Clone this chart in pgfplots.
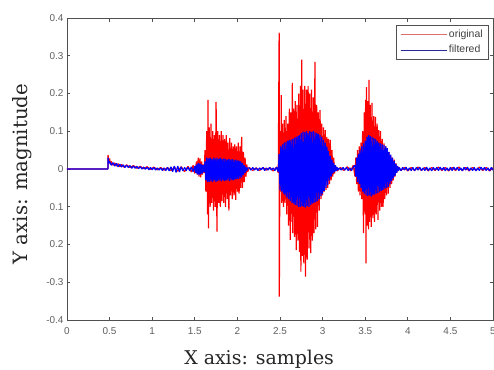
\documentclass[border=0pt]{standalone}
\usepackage{fontspec}
\setmainfont{DejaVu Serif}
\newfontfamily\tickfont{Liberation Sans}
\usepackage{pgfplots}
\pgfplotsset{compat=1.18}
\definecolor{tickgray}{RGB}{95,95,95}
\definecolor{axgray}{RGB}{80,80,80}
\definecolor{legred}{RGB}{225,110,110}
\definecolor{legblue}{RGB}{40,40,150}
\begin{document}
\begin{tikzpicture}
\begin{axis}[
  name=ax, at={(0,0)}, anchor=south west,
  width=426bp, height=302bp, scale only axis,
  xmin=0, xmax=5, ymin=-0.4, ymax=0.4,
  xtick={0,0.5,1,1.5,2,2.5,3,3.5,4,4.5,5},
  xticklabels={0,0.5,1,1.5,2,2.5,3,3.5,4,4.5,5},
  ytick={-0.4,-0.3,-0.2,-0.1,0,0.1,0.2,0.3,0.4},
  yticklabels={-0.4,-0.3,0.2,0.1,0,0.1,0.2,0.3,0.4},
  tick align=inside, major tick length=3.5bp,
  axis line style={draw=axgray, line width=0.9bp},
  every tick/.style={draw=axgray, line width=0.7bp},
  /pgf/number format/assume math mode=true,
  ticklabel style={font=\tickfont\fontsize{10}{12}\selectfont, text=tickgray},
  xticklabel style={yshift=-4bp},
  xlabel={X axis: samples}, ylabel={Y axis: magnitude},
  xlabel style={font=\fontsize{19}{22}\selectfont, text=black!85, at={(axis description cs:0.451,-0.149)}, anchor=base},
  ylabel style={font=\fontsize{19.8}{22}\selectfont, text=black!85, at={(axis description cs:-0.1045,0.483)}, anchor=center},
  legend style={at={(axis description cs:0.9906,0.9768)}, anchor=north east, draw=axgray, line width=0.6bp,
    font=\tickfont\fontsize{10.5}{12}\selectfont, text=black!75, inner xsep=4bp, inner ysep=3bp,
    row sep=2bp, legend cell align=left},
]
\addplot[draw=red, line width=1.2bp, line join=bevel, no markers,
  legend image code/.code={\draw[draw=legred, line width=0.7bp] (0bp,0bp) -- (46bp,0bp);}] coordinates {
(0,0) (0.48,0) (0.482,0.037) (0.49,0.018) (0.50,0.028) (0.51,0.012) (0.52,0.02) (0.54,0.01) (0.56,0.016) (0.58,0.008) (0.60,0.014) (0.62,0.006) (0.64,0.012) (0.67,0.005) (0.70,0.011) (0.74,0.004) (0.78,0.009) (0.82,0.002) (0.86,0.007) (0.90,0.001) (0.94,0.006) (0.98,-0.001) (1.02,0.005) (1.06,-0.002) (1.10,0.004) (1.14,-0.003) (1.18,0.004) (1.22,-0.004) (1.26,0.005) (1.30,-0.006) (1.34,0.006) (1.38,-0.007) (1.42,0.007) (1.46,-0.008) (1.48,0.01) (1.50,-0.012) (1.52,0.02) (1.53,-0.015) (1.54,0.03) (1.55,-0.02) (1.56,0.028) (1.57,-0.022) (1.58,0.02) (1.59,-0.015) (1.60,0.012) (1.61,-0.01)
(1.62,0.05) (1.63,-0.06) (1.64,0.10) (1.65,-0.12) (1.655,0.183) (1.66,-0.157) (1.67,0.11) (1.68,-0.10) (1.69,0.12) (1.70,-0.09) (1.71,0.10) (1.72,-0.11) (1.73,0.09) (1.74,-0.10) (1.75,0.178) (1.76,-0.166) (1.77,0.10) (1.78,-0.09) (1.79,0.09) (1.80,-0.10) (1.81,0.10) (1.82,-0.085) (1.83,0.09) (1.84,-0.09) (1.85,0.08) (1.86,-0.10) (1.87,0.09) (1.88,-0.08) (1.89,0.07) (1.90,-0.11) (1.91,0.082) (1.92,-0.07) (1.93,0.07) (1.94,-0.08) (1.95,0.06) (1.96,-0.07) (1.97,0.065) (1.98,-0.082) (1.99,0.06) (2.00,-0.06) (2.01,0.07) (2.02,-0.065) (2.03,0.06) (2.04,-0.05) (2.05,0.085) (2.06,-0.05) (2.07,0.045) (2.08,-0.035) (2.09,0.03) (2.10,-0.02) (2.11,0.012) (2.12,-0.008)
(2.14,0.004) (2.18,-0.004) (2.22,0.003) (2.26,-0.004) (2.30,0.004) (2.34,-0.003) (2.38,0.004) (2.42,-0.005) (2.46,0.005) (2.48,-0.01)
(2.49,0.361) (2.492,-0.338) (2.50,0.10) (2.51,-0.06) (2.515,0.196) (2.52,-0.09) (2.53,0.12) (2.54,-0.10) (2.55,0.13) (2.56,-0.09) (2.57,0.14) (2.58,-0.12) (2.59,0.12) (2.60,-0.15) (2.61,0.16) (2.62,-0.188) (2.63,0.15) (2.64,-0.14) (2.645,0.228) (2.65,-0.17) (2.66,0.16) (2.67,-0.18) (2.68,0.18) (2.69,-0.215) (2.70,0.17) (2.71,-0.19) (2.72,0.20) (2.73,-0.22) (2.74,0.22) (2.745,-0.272) (2.755,0.29) (2.76,-0.23) (2.77,0.21) (2.78,-0.25) (2.79,0.22) (2.80,-0.285) (2.81,0.21) (2.82,-0.24) (2.83,0.22) (2.84,-0.21) (2.85,0.20) (2.86,-0.223) (2.87,0.21) (2.88,-0.19) (2.89,0.19) (2.90,-0.17) (2.91,0.284) (2.92,-0.16) (2.93,0.17) (2.94,-0.153) (2.95,0.15) (2.96,-0.11) (2.97,0.156) (2.98,-0.08) (2.99,0.12) (3.00,-0.07) (3.01,0.11) (3.02,-0.06) (3.03,0.103) (3.04,-0.055) (3.05,0.085) (3.06,-0.05) (3.07,0.08) (3.08,-0.04) (3.09,0.077) (3.10,-0.03) (3.11,0.05) (3.12,-0.02) (3.13,0.03) (3.14,-0.012) (3.15,0.008)
(3.17,-0.005) (3.21,0.004) (3.25,-0.004) (3.29,0.006) (3.33,-0.005) (3.36,0.01) (3.38,-0.02)
(3.39,0.03) (3.40,-0.04) (3.41,0.05) (3.42,-0.06) (3.43,0.06) (3.44,-0.07) (3.45,0.07) (3.46,-0.08) (3.47,0.10) (3.48,-0.17) (3.49,0.15) (3.50,-0.12) (3.505,0.183) (3.51,-0.25) (3.515,0.217) (3.52,-0.15) (3.53,0.18) (3.54,-0.16) (3.545,0.236) (3.55,-0.14) (3.56,0.17) (3.57,-0.153) (3.58,0.175) (3.59,-0.13) (3.60,0.14) (3.61,-0.14) (3.62,0.138) (3.63,-0.12) (3.64,0.12) (3.65,-0.135) (3.66,0.103) (3.67,-0.11) (3.68,0.10) (3.69,-0.10) (3.70,0.08) (3.71,-0.10) (3.72,0.068) (3.73,-0.08) (3.74,0.06) (3.75,-0.07) (3.76,0.05) (3.77,-0.065) (3.78,0.045) (3.79,-0.05) (3.80,0.035) (3.81,-0.04) (3.82,0.03) (3.83,-0.03) (3.84,0.025) (3.85,-0.02) (3.86,0.015) (3.87,-0.01) (3.88,0.006)
(3.92,-0.004) (3.96,0.004) (4.00,-0.005) (4.04,0.004) (4.08,-0.004) (4.12,0.005) (4.16,-0.004) (4.20,0.004) (4.24,-0.005) (4.28,0.004) (4.32,-0.004) (4.36,0.005) (4.40,-0.004) (4.44,0.004) (4.48,-0.005) (4.52,0.004) (4.56,-0.004) (4.60,0.005) (4.64,-0.004) (4.68,0.004) (4.72,-0.005) (4.76,0.004) (4.80,-0.004) (4.84,0.005) (4.88,-0.004) (4.92,0.004) (4.96,-0.005) (5.00,0.003)
};
\addlegendentry{original}
\addplot[draw=blue, line width=1.2bp, line join=bevel, no markers,
  legend image code/.code={\draw[draw=legblue, line width=0.7bp] (0bp,0bp) -- (46bp,0bp);}] coordinates {
(0,0) (0.48,0) (0.482,0.03) (0.49,0.015) (0.50,0.02) (0.52,0.010) (0.54,0.017) (0.56,0.008) (0.58,0.015) (0.60,0.006) (0.62,0.013) (0.64,0.005) (0.66,0.011) (0.68,0.004) (0.70,0.010) (0.72,0.004) (0.74,0.009) (0.76,0.002) (0.78,0.008) (0.80,0.002) (0.82,0.007) (0.84,0.001) (0.86,0.006) (0.88,0.000) (0.90,0.005) (0.92,-0.001) (0.94,0.005) (0.96,-0.002) (0.98,0.004) (1.00,-0.002) (1.02,0.004) (1.04,-0.003) (1.06,0.003) (1.08,-0.003) (1.10,0.003) (1.12,-0.004) (1.14,0.003) (1.16,-0.004) (1.18,0.004) (1.20,-0.005) (1.22,0.006) (1.24,-0.007) (1.26,0.008) (1.28,-0.009) (1.30,0.008) (1.32,-0.008) (1.34,0.006) (1.36,-0.005) (1.38,0.004) (1.40,-0.004) (1.42,0.005) (1.44,-0.005) (1.46,0.006) (1.48,-0.007) (1.50,0.008) (1.51,-0.01) (1.52,0.012) (1.53,-0.014) (1.54,0.016) (1.55,-0.016) (1.56,0.015) (1.57,-0.014) (1.58,0.012) (1.59,-0.012) (1.60,0.01) (1.61,-0.008)
(1.62,0.02) (1.63,-0.03) (1.64,0.03) (1.65,-0.035) (1.66,0.028) (1.67,-0.034) (1.68,0.03) (1.69,-0.033) (1.70,0.026) (1.71,-0.035) (1.72,0.03) (1.73,-0.03) (1.74,0.028) (1.75,-0.034) (1.76,0.03) (1.77,-0.032) (1.78,0.027) (1.79,-0.03) (1.80,0.03) (1.81,-0.033) (1.82,0.026) (1.83,-0.03) (1.84,0.028) (1.85,-0.032) (1.86,0.027) (1.87,-0.03) (1.88,0.025) (1.89,-0.03) (1.90,0.027) (1.91,-0.032) (1.92,0.025) (1.93,-0.028) (1.94,0.026) (1.95,-0.03) (1.96,0.024) (1.97,-0.028) (1.98,0.025) (1.99,-0.027) (2.00,0.023) (2.01,-0.026) (2.02,0.022) (2.03,-0.025) (2.04,0.02) (2.05,-0.022) (2.06,0.016) (2.07,-0.016) (2.08,0.01) (2.09,-0.01) (2.10,0.006) (2.11,-0.005) (2.12,0.003)
(2.14,0.003) (2.16,-0.003) (2.18,0.004) (2.20,-0.003) (2.22,0.003) (2.24,-0.004) (2.26,0.003) (2.28,-0.002) (2.30,0.004) (2.32,-0.004) (2.34,0.003) (2.36,-0.003) (2.38,0.004) (2.40,-0.003) (2.42,0.003) (2.44,-0.004) (2.46,0.005) (2.48,-0.008)
(2.49,0.04) (2.50,-0.056) (2.51,0.06) (2.52,-0.06) (2.53,0.065) (2.54,-0.065) (2.55,0.07) (2.56,-0.07) (2.57,0.072) (2.58,-0.075) (2.59,0.075) (2.60,-0.08) (2.61,0.077) (2.62,-0.085) (2.63,0.078) (2.64,-0.09) (2.65,0.08) (2.66,-0.092) (2.67,0.083) (2.68,-0.095) (2.69,0.085) (2.70,-0.097) (2.71,0.088) (2.72,-0.1) (2.73,0.09) (2.74,-0.1) (2.75,0.095) (2.76,-0.098) (2.77,0.099) (2.78,-0.1) (2.79,0.097) (2.80,-0.102) (2.81,0.1) (2.82,-0.098) (2.83,0.096) (2.84,-0.1) (2.85,0.1) (2.86,-0.095) (2.87,0.098) (2.88,-0.092) (2.89,0.1) (2.90,-0.09) (2.91,0.097) (2.92,-0.088) (2.93,0.095) (2.94,-0.085) (2.95,0.093) (2.96,-0.08) (2.97,0.09) (2.98,-0.072) (2.99,0.085) (3.00,-0.065) (3.01,0.078) (3.02,-0.058) (3.03,0.07) (3.04,-0.05) (3.05,0.06) (3.06,-0.042) (3.07,0.048) (3.08,-0.03) (3.09,0.035) (3.10,-0.02) (3.11,0.025) (3.12,-0.012) (3.13,0.016) (3.14,-0.008) (3.15,0.01) (3.16,-0.005) (3.17,0.005) (3.18,-0.003)
(3.20,0.003) (3.22,-0.003) (3.24,0.004) (3.26,-0.003) (3.28,0.004) (3.30,-0.004) (3.32,0.003) (3.34,-0.004) (3.36,0.005)
(3.38,0.01) (3.39,-0.02) (3.40,0.03) (3.41,-0.035) (3.42,0.04) (3.43,-0.04) (3.44,0.05) (3.45,-0.05) (3.46,0.06) (3.47,-0.06) (3.48,0.068) (3.49,-0.065) (3.50,0.075) (3.51,-0.07) (3.52,0.085) (3.53,-0.072) (3.54,0.09) (3.55,-0.07) (3.56,0.088) (3.57,-0.073) (3.58,0.085) (3.59,-0.07) (3.60,0.082) (3.61,-0.068) (3.62,0.08) (3.63,-0.065) (3.64,0.075) (3.65,-0.063) (3.66,0.07) (3.67,-0.06) (3.68,0.068) (3.69,-0.058) (3.70,0.065) (3.71,-0.055) (3.72,0.063) (3.73,-0.052) (3.74,0.06) (3.75,-0.05) (3.76,0.055) (3.77,-0.047) (3.78,0.045) (3.79,-0.04) (3.80,0.038) (3.81,-0.032) (3.82,0.03) (3.83,-0.025) (3.84,0.022) (3.85,-0.018) (3.86,0.014) (3.87,-0.01) (3.88,0.008) (3.89,-0.005) (3.90,0.004)
(3.92,-0.004) (3.94,0.004) (3.96,-0.003) (3.98,0.005) (4.00,-0.004) (4.02,0.003) (4.04,-0.004) (4.06,0.004) (4.08,-0.005) (4.10,0.004) (4.12,-0.003) (4.14,0.005) (4.16,-0.004) (4.18,0.003) (4.20,-0.004) (4.22,0.005) (4.24,-0.004) (4.26,0.003) (4.28,-0.005) (4.30,0.004) (4.32,-0.003) (4.34,0.004) (4.36,-0.004) (4.38,0.005) (4.40,-0.003) (4.42,0.004) (4.44,-0.005) (4.46,0.003) (4.48,-0.004) (4.50,0.004) (4.52,-0.004) (4.54,0.005) (4.56,-0.003) (4.58,0.004) (4.60,-0.004) (4.62,0.003) (4.64,-0.005) (4.66,0.004) (4.68,-0.003) (4.70,0.005) (4.72,-0.004) (4.74,0.003) (4.76,-0.004) (4.78,0.004) (4.80,-0.005) (4.82,0.003) (4.84,-0.004) (4.86,0.005) (4.88,-0.003) (4.90,0.004) (4.92,-0.004) (4.94,0.003) (4.96,-0.005) (4.98,0.004) (5.00,-0.003)
};
\addlegendentry{filtered}
\end{axis}
\pgfresetboundingbox
\path[use as bounding box] (-67bp,-50bp) rectangle (427bp,320bp);
\end{tikzpicture}
\end{document}
